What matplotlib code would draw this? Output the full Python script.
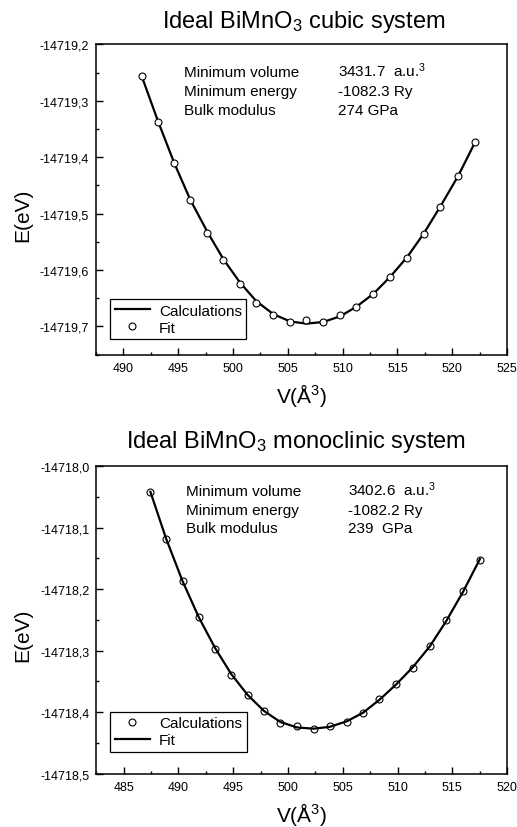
import matplotlib
matplotlib.use('Agg')
import matplotlib.pyplot as plt
from matplotlib.ticker import MultipleLocator, FuncFormatter

plt.rcParams['font.family'] = ['Liberation Sans', 'DejaVu Sans']
plt.rcParams['mathtext.fontset'] = 'custom'
plt.rcParams['mathtext.rm'] = 'Liberation Sans'
plt.rcParams['mathtext.it'] = 'Liberation Sans:italic'
plt.rcParams['mathtext.bf'] = 'Liberation Sans:bold'

# cubic system
cub_v = [491.68, 493.17, 494.63, 496.09, 497.65, 499.13, 500.63, 502.12, 503.67, 505.20, 506.69,
         508.24, 509.77, 511.26, 512.81, 514.34, 515.89, 517.41, 518.93, 520.55, 522.10]
cub_fit = [-14719.257, -14719.337, -14719.411, -14719.476, -14719.534, -14719.582, -14719.624,
           -14719.658, -14719.679, -14719.692, -14719.688, -14719.692, -14719.680, -14719.665,
           -14719.642, -14719.612, -14719.578, -14719.536, -14719.488, -14719.434, -14719.374]
cub_calc = [-14719.257, -14719.337, -14719.410, -14719.475, -14719.532, -14719.581, -14719.622,
            -14719.655, -14719.678, -14719.691, -14719.695, -14719.692, -14719.682, -14719.665,
            -14719.642, -14719.612, -14719.577, -14719.535, -14719.487, -14719.433, -14719.373]

# monoclinic system
mon_v = [487.44, 488.87, 490.37, 491.86, 493.35, 494.81, 496.31, 497.80, 499.29, 500.82, 502.35,
         503.81, 505.37, 506.86, 508.35, 509.88, 511.40, 512.96, 514.45, 516.00, 517.53]
mon_calc = [-14718.042, -14718.119, -14718.187, -14718.246, -14718.297, -14718.339, -14718.373,
            -14718.399, -14718.417, -14718.423, -14718.427, -14718.422, -14718.416, -14718.401,
            -14718.379, -14718.355, -14718.329, -14718.293, -14718.250, -14718.203, -14718.153]
mon_fit = [-14718.042, -14718.118, -14718.187, -14718.246, -14718.296, -14718.338, -14718.372,
           -14718.398, -14718.416, -14718.425, -14718.427, -14718.424, -14718.415, -14718.401,
           -14718.380, -14718.355, -14718.327, -14718.293, -14718.252, -14718.204, -14718.151]

cub_info = ['Minimum volume', 'Minimum energy', 'Bulk modulus']
cub_vals = ['3431.7  a.u.$^{3}$', '-1082.3 Ry', '274 GPa']
mon_vals = ['3402.6  a.u.$^{3}$', '-1082.2 Ry', '239  GPa']

comma = FuncFormatter(lambda v, p: ('%.1f' % v).replace('.', ','))


def style_axes(ax, xlim, ylim):
    ax.set_xlim(*xlim)
    ax.set_ylim(*ylim)
    ax.xaxis.set_major_locator(MultipleLocator(5))
    ax.xaxis.set_minor_locator(MultipleLocator(2.5))
    ax.yaxis.set_major_locator(MultipleLocator(0.1))
    ax.yaxis.set_minor_locator(MultipleLocator(0.05))
    ax.yaxis.set_major_formatter(comma)
    ax.tick_params(which='both', direction='in', top=False, right=False, labelsize=9, pad=5)
    ax.tick_params(which='major', length=5, width=1)
    ax.tick_params(which='minor', length=2.5, width=1)
    for s in ax.spines.values():
        s.set_linewidth(1.1)
    ax.set_xlabel('V(Å$^{3}$)', fontsize=15)
    ax.set_ylabel('E(eV)', fontsize=15)
    ax.yaxis.set_label_coords(-0.155, 0.453)
    ax.xaxis.set_label_coords(0.5, -0.085)


fig = plt.figure(figsize=(5.17, 8.28), dpi=100)

# top panel
ax1 = fig.add_axes([0.1857, 0.5704, 0.795, 0.3749])
ax1.plot(cub_v, cub_calc, color='black', linewidth=1.6, label='Calculations', zorder=2)
ax1.plot(cub_v, cub_fit, linestyle='none', marker='o', markersize=5, markerfacecolor='white',
         markeredgecolor='black', markeredgewidth=0.8, label='Fit', zorder=3)
style_axes(ax1, (487.5, 525), (-14719.75, -14719.2))
ax1.legend(loc='lower left', bbox_to_anchor=(0.034, 0.05), borderaxespad=0, fontsize=11,
           fancybox=False, edgecolor='black', framealpha=1, handlelength=2.3,
           handletextpad=0.6, labelspacing=0.2, borderpad=0.3).get_frame().set_linewidth(0.9)
for i in range(3):
    ax1.text(0.215, 0.897 - i * 0.06, cub_info[i], transform=ax1.transAxes, fontsize=11, va='baseline')
    ax1.text(0.588, 0.897 - i * 0.06, cub_vals[i], transform=ax1.transAxes, fontsize=11, va='baseline')
fig.text(0.5876, 0.9658, 'Ideal BiMnO$_{3}$ cubic system', fontsize=17, ha='center', va='baseline')

# bottom panel
ax2 = fig.add_axes([0.1863, 0.0645, 0.7944, 0.3715])
ax2.plot(mon_v, mon_calc, linestyle='none', marker='o', markersize=5, markerfacecolor='none',
         markeredgecolor='black', markeredgewidth=0.8, label='Calculations', zorder=2)
ax2.plot(mon_v, mon_fit, color='black', linewidth=1.6, label='Fit', zorder=3)
style_axes(ax2, (482.5, 520), (-14718.5, -14718.0))
ax2.legend(loc='lower left', bbox_to_anchor=(0.034, 0.07), borderaxespad=0, fontsize=11,
           fancybox=False, edgecolor='black', framealpha=1, handlelength=2.3,
           handletextpad=0.6, labelspacing=0.2, borderpad=0.3).get_frame().set_linewidth(0.9)
for i in range(3):
    ax2.text(0.218, 0.906 - i * 0.061, cub_info[i], transform=ax2.transAxes, fontsize=11, va='baseline')
    ax2.text(0.612, 0.906 - i * 0.061, mon_vals[i], transform=ax2.transAxes, fontsize=11, va='baseline')
fig.text(0.5725, 0.4586, 'Ideal BiMnO$_{3}$ monoclinic system', fontsize=17, ha='center', va='baseline')

fig.savefig('out.png', dpi=100)
